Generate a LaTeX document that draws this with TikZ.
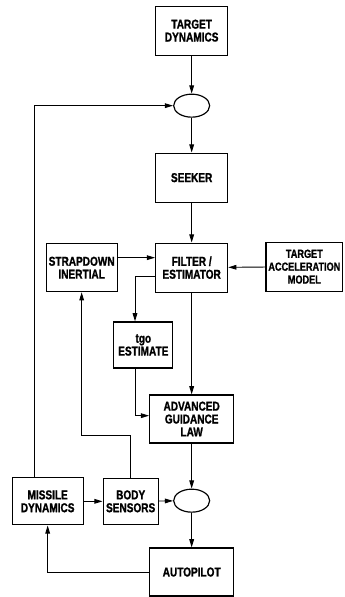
\documentclass[tikz,border=0pt]{standalone}
\usepackage{fontspec}
\setmainfont{Liberation Sans}[FakeStretch=0.78, BoldFeatures={FakeBold=1.2}]
\usetikzlibrary{shapes,shapes.geometric,arrows,arrows.meta,positioning,calc}

\begin{document}
\begin{tikzpicture}[
  blk/.style={rectangle, draw, line width=1pt, minimum width=2.16cm,
    minimum height=1.47cm, align=center, inner sep=1pt,
    font=\fontsize{11}{11}\selectfont\bfseries},
  sum/.style={ellipse, draw, line width=1pt, minimum width=1.08cm, minimum height=0.69cm},
  arr/.style={-{Triangle[length=7pt,width=4pt]}, line width=0.8pt}
]
\useasboundingbox (0,0) rectangle (10.32,-17.91);

% Main column
\node[blk] (target)   at (5.75,-0.92)  {TARGET\\DYNAMICS};
\node[sum] (sumtop)   at (5.75,-3.17)  {};
\node[blk] (seeker)   at (5.75,-5.33)  {SEEKER};
\node[blk] (filter)   at (5.75,-8.03)  {FILTER /\\ESTIMATOR};
\node[blk, minimum width=2.52cm, minimum height=1.44cm] (guidance) at (5.75,-12.57) {ADVANCED\\GUIDANCE\\LAW};
\node[sum] (sumbot)   at (5.75,-15.02) {};
\node[blk, minimum width=2.52cm, minimum height=1.44cm] (autopilot) at (5.75,-17.16) {AUTOPILOT};

% Side blocks
\node[blk, minimum width=2.13cm, minimum height=1.44cm] (strapdown) at (2.45,-8.03) {STRAPDOWN\\INERTIAL};
\node[blk, minimum width=2.3cm, font=\fontsize{10}{11}\selectfont\bfseries] (tam) at (9.13,-8.0) {TARGET\\ACCELERATION\\MODEL};
\node[blk, minimum width=1.77cm, minimum height=1.38cm] (tgo) at (4.3,-10.35) {tgo\\ESTIMATE};
\node[blk, minimum width=2.13cm, minimum height=1.41cm] (missile) at (1.43,-15.04) {MISSILE\\DYNAMICS};
\node[blk, minimum width=1.65cm, minimum height=1.38cm] (sensors) at (3.92,-15.04) {BODY\\SENSORS};

% Edges
\draw[arr] (target) -- (sumtop);
\draw[arr] (sumtop) -- (seeker);
\draw[arr] (seeker) -- (filter);
\draw[arr] ([yshift=0.3cm]strapdown.east) -- ([yshift=0.3cm]filter.west);
\draw[arr] (tam) -- (filter);
\draw[arr] ([yshift=-0.25cm]filter.west) -| ([xshift=-0.25cm]tgo.north);
\draw[arr] ([xshift=-0.25cm]tgo.south) |- ([yshift=0.1cm]guidance.west);
\draw[arr] (filter) -- (guidance);
\draw[arr] (guidance) -- (sumbot);
\draw[arr] (sumbot) -- (autopilot);
\draw[arr] (autopilot.west) -| (missile.south);
\draw[arr] (missile) -- (sensors);
\draw[arr] (sensors) -- (sumbot);
\draw[arr] (sensors.north) -- ++(0,1.27) -| (strapdown.south);
\draw[arr] ([xshift=-0.4cm]missile.north) |- (sumtop.west);

\end{tikzpicture}
\end{document}
